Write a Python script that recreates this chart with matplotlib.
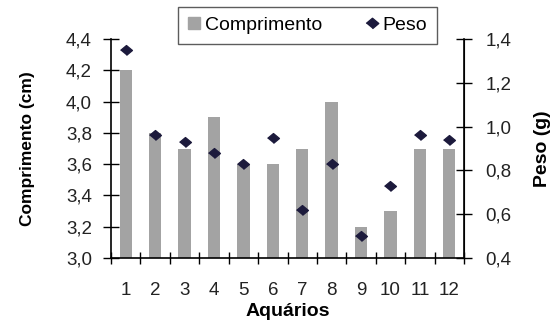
import matplotlib
matplotlib.use("Agg")
import matplotlib.pyplot as plt
from matplotlib.ticker import FuncFormatter, FixedLocator
from matplotlib.lines import Line2D

plt.rcParams["font.family"] = ["Liberation Sans", "DejaVu Sans"]

aquarios = [1, 2, 3, 4, 5, 6, 7, 8, 9, 10, 11, 12]
comprimento = [4.2, 3.8, 3.7, 3.9, 3.6, 3.6, 3.7, 4.0, 3.2, 3.3, 3.7, 3.7]
peso = [1.35, 0.96, 0.93, 0.88, 0.83, 0.95, 0.62, 0.83, 0.50, 0.73, 0.96, 0.94]

BAR = "#a3a3a3"
DOT = "#1c1a3c"
TXT = "#222222"
# losango um pouco mais largo que alto, como no original
losango = [(-1.2, 0), (0, 1), (1.2, 0), (0, -1)]

virgula = FuncFormatter(lambda v, p: f"{v:.1f}".replace(".", ","))

fig, ax = plt.subplots(figsize=(5.6, 3.22), dpi=100)
fig.subplots_adjust(left=111 / 560, right=464 / 560, top=1 - 39 / 322,
                    bottom=1 - 258 / 322)

ax.bar(aquarios, comprimento, width=0.42, color=BAR, zorder=2)
ax.set_xlim(0.5, 12.5)
ax.set_ylim(3.0, 4.4)
ax.set_yticks([3.0, 3.2, 3.4, 3.6, 3.8, 4.0, 4.2, 4.4])
ax.yaxis.set_major_formatter(virgula)
ax.set_xticks(aquarios)
ax.xaxis.set_minor_locator(FixedLocator([i + 0.5 for i in range(0, 13)]))
ax.tick_params(axis="x", which="major", length=0, labelsize=13.5, pad=17,
               labelcolor=TXT)
ax.tick_params(axis="x", which="minor", direction="inout", length=8, width=1)
ax.tick_params(axis="y", direction="inout", length=11.5, width=1,
               labelsize=13.5, labelcolor=TXT, pad=8)
ax.set_ylabel("Comprimento (cm)", fontsize=12.5, fontweight="bold",
              labelpad=22)
ax.set_xlabel("Aquários", fontsize=14, fontweight="bold", labelpad=3)
ax.spines["top"].set_visible(False)
for s in ("left", "bottom"):
    ax.spines[s].set_linewidth(1.2)

ax2 = ax.twinx()
ax2.scatter(aquarios, peso, marker=losango, s=72, color=DOT, zorder=3)
ax2.set_ylim(0.4, 1.4)
ax2.set_yticks([0.4, 0.6, 0.8, 1.0, 1.2, 1.4])
ax2.yaxis.set_major_formatter(virgula)
ax2.tick_params(axis="y", direction="inout", length=11, width=1,
                labelsize=13.5, labelcolor=TXT, pad=10)
ax2.set_ylabel("Peso (g)", fontsize=14, fontweight="bold", labelpad=16)
ax2.spines["right"].set_linewidth(1.2)
for s in ("top", "left", "bottom"):
    ax2.spines[s].set_visible(False)

handles = [
    Line2D([], [], marker="s", ls="", color=BAR, markersize=8),
    Line2D([], [], marker=losango, ls="", color=DOT, markersize=9),
]
leg = fig.legend(handles, ["Comprimento", "Peso"], loc="center",
                 bbox_to_anchor=(307.5 / 560, 1 - 25.5 / 322), ncol=2,
                 fontsize=14, frameon=True, fancybox=False, handlelength=0.7,
                 handletextpad=0.2, columnspacing=2.2, borderpad=0.5)
leg.get_frame().set_edgecolor("#333333")
leg.get_frame().set_linewidth(1)

fig.savefig("out.png", dpi=100)
